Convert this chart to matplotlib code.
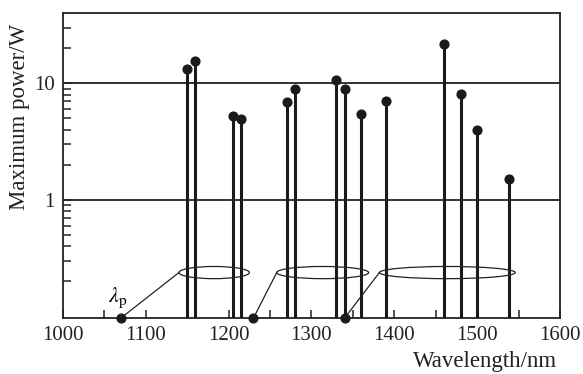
import matplotlib
matplotlib.use('Agg')
import matplotlib.pyplot as plt
from matplotlib.patches import Ellipse
from matplotlib.ticker import FixedLocator, NullFormatter

# Stokes lines: wavelength (nm) and maximum power (W)
wavelength = [1150, 1160, 1205, 1215, 1270, 1280, 1330, 1340, 1360, 1390, 1460, 1480, 1500, 1538]
power = [13.2, 15.4, 5.2, 4.9, 6.9, 8.9, 10.6, 8.9, 5.5, 7.0, 21.7, 8.1, 4.0, 1.52]

# pump wavelengths and the ranges of lines each one feeds
pumps = [1070, 1230, 1340]
ring_spans = [(1140, 1225), (1258, 1369), (1382, 1546)]

plt.rcParams['font.family'] = 'Liberation Serif'
plt.rcParams['mathtext.fontset'] = 'stix'

fig = plt.figure(figsize=(5.83, 3.74), dpi=100)
ax = fig.add_axes([0.108, 0.1497, 0.8525, 0.8155])

ymin, ymax = 0.097, 40
ax.set_yscale('log')
ax.set_xlim(1000, 1600)
ax.set_ylim(ymin, ymax)

# reference lines at 1 W and 10 W
for lev in [1, 10]:
    ax.axhline(lev, color='#222222', lw=1.3, zorder=1)

ax.vlines(wavelength, ymin, power, color='#1a1a1a', lw=2.2, zorder=3)
ax.plot(wavelength, power, 'o', color='#1a1a1a', ms=6.3, zorder=4)
ax.plot(pumps, [ymin] * len(pumps), 'o', color='#1a1a1a', ms=6.3, zorder=5, clip_on=False)

# rings and connectors (x in data, y in axes fraction)
trans = ax.get_xaxis_transform()
ring_y = 0.149
for p, (a, b) in zip(pumps, ring_spans):
    ax.add_patch(Ellipse(((a + b) / 2, ring_y), b - a, 0.04, transform=trans,
                         fill=False, lw=0.9, ec='#222222', zorder=6))
    ax.plot([p, a], [0, ring_y], transform=trans, color='#222222', lw=0.9, zorder=6)

ax.text(1066, 0.066, r'$\lambda_{\mathrm{p}}$', transform=trans, fontsize=16,
        ha='center', va='center')

ax.xaxis.set_major_locator(FixedLocator(range(1000, 1601, 100)))
ax.xaxis.set_minor_locator(FixedLocator(range(1050, 1600, 100)))
ax.yaxis.set_major_locator(FixedLocator([1, 10]))
ax.yaxis.set_minor_locator(FixedLocator([0.2, 0.3, 0.4, 0.5, 0.6, 0.7, 0.8, 0.9,
                                         2, 3, 4, 5, 6, 7, 8, 9, 20, 30]))
ax.yaxis.set_minor_formatter(NullFormatter())
ax.set_yticklabels(['1', '10'])

ax.tick_params(which='both', direction='in', top=False, right=False,
               length=6, width=1.1, labelsize=15, colors='#222222')
ax.tick_params(axis='x', pad=6)
ax.tick_params(axis='y', pad=6)
for s in ax.spines.values():
    s.set_linewidth(1.3)
    s.set_color('#222222')

ax.set_ylabel('Maximum power/W', fontsize=16.5, color='#222222', va='center')
ax.yaxis.set_label_coords(-0.0865, 0.66)
ax.set_xlabel('Wavelength/nm', fontsize=16.5, color='#222222', ha='right', va='center')
ax.xaxis.set_label_coords(0.995, -0.143)

fig.savefig('out.png', dpi=100)
